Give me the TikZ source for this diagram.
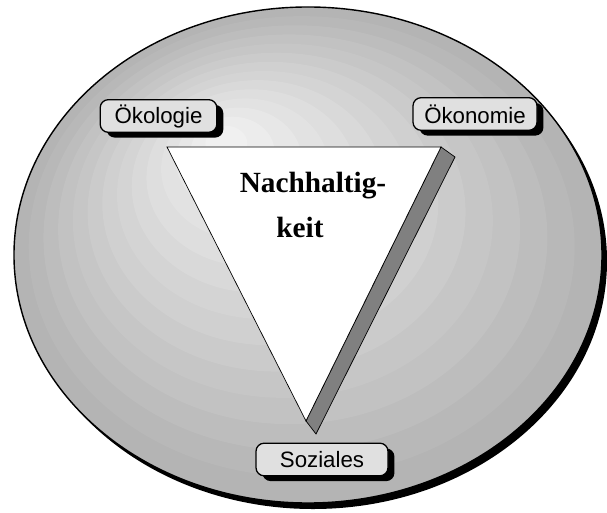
\documentclass[tikz,border=0pt]{standalone}
\usepackage{fontspec}
\setmainfont{Liberation Serif}
\setsansfont{Liberation Sans}
\usepackage{tikz}
\usetikzlibrary{shadows}
\definecolor{boxgrey}{RGB}{224,224,224}
\definecolor{wedgegrey}{RGB}{128,128,128}
\tikzset{
  pillar/.style={rectangle, draw=black, fill=boxgrey, rounded corners=7pt,
    line width=1.1pt, minimum height=0.98cm, inner sep=0pt,
    font=\sffamily\fontsize{19}{23}\selectfont,
    drop shadow={shadow xshift=5.5pt, shadow yshift=-4.5pt, fill=black, opacity=1}},
  goaltext/.style={font=\rmfamily\bfseries\fontsize{25}{30}\selectfont,
    anchor=base, inner sep=0pt},
  rim/.style={draw=black, line width=1.2pt},
  edge/.style={draw=black, line width=0.6pt}
}

\begin{document}
\begin{tikzpicture}[x=0.03cm, y=-0.03cm]
  \useasboundingbox (0,0) rectangle (607,513);

  % Disc with shadow and banded shading
  \fill[black] (313,261) ellipse [x radius=8.82cm, y radius=7.44cm];
  \foreach \i in {0,...,13}{
    \pgfmathsetmacro{\t}{\i/14}
    \pgfmathsetmacro{\cx}{308-88*\t}
    \pgfmathsetmacro{\cy}{255-120*\t}
    \pgfmathsetmacro{\rx}{294*(1-\t)*0.03}
    \pgfmathsetmacro{\ry}{248*(1-\t)*0.03}
    \pgfmathsetmacro{\lvl}{70.5+25.5*\t}
    \fill[white!\lvl!black] (\cx,\cy) ellipse [x radius=\rx cm, y radius=\ry cm];
  }
  \draw[rim] (308,255) ellipse [x radius=8.82cm, y radius=7.44cm];

  % Triangle corners
  \coordinate (tl) at (167,147);
  \coordinate (tr) at (441,147);
  \coordinate (tb) at (306,421);
  \coordinate (str) at (455,157);
  \coordinate (stb) at (316,434);

  % Triangle and its side face
  \filldraw[edge, fill=wedgegrey] (tr) -- (str) -- (stb) -- (tb) -- cycle;
  \filldraw[edge, fill=white] (tl) -- (tr) -- (tb) -- cycle;

  % Centre text
  \node[goaltext] (goal1) at (313,193) {Nachhaltig-};
  \node[goaltext] (goal2) at (300,238) {keit};

  % Corner labels
  \node[pillar, minimum width=3.5cm] (oeko) at (158.5,116) {Ökologie};
  \node[pillar, minimum width=3.72cm] (oekon) at (475,114) {Ökonomie};
  \node[pillar, minimum width=3.96cm] (sozial) at (322,459.5) {Soziales};
\end{tikzpicture}
\end{document}
